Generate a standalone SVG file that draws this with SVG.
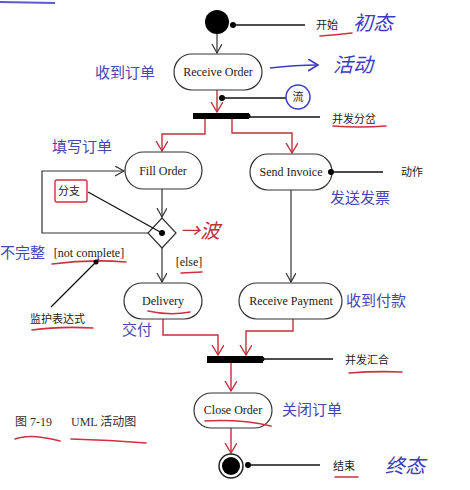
<svg xmlns="http://www.w3.org/2000/svg" width="470" height="490" viewBox="0 0 470 490">
<style>
.n{fill:#fff;stroke:#333;stroke-width:1.2}
.en{font-family:"Liberation Serif",serif;font-size:12px;fill:#222;text-anchor:middle}
.cn{font-family:"Noto Sans CJK SC",sans-serif;font-size:11px;fill:#222}
.bl{font-family:"Noto Sans CJK SC",sans-serif;font-size:15px;fill:#4646b4}
.hw{font-family:"Noto Sans CJK SC",sans-serif;font-size:20px;fill:#3c3cc0;font-style:italic}
.k{fill:none;stroke:#333;stroke-width:1.2}
.r{fill:none;stroke:#c0303c;stroke-width:1.4}
.ul{fill:none;stroke:#d03040;stroke-width:1.6;stroke-linecap:round}
.lead{fill:none;stroke:#111;stroke-width:1.3}
</style>
<defs>
<marker id="ak" markerWidth="12" markerHeight="12" refX="9" refY="5" orient="auto" markerUnits="userSpaceOnUse"><path d="M0,0 L9,5 L0,10" fill="none" stroke="#333" stroke-width="1.2"/></marker>
<marker id="ar" markerWidth="14" markerHeight="14" refX="10" refY="6" orient="auto" markerUnits="userSpaceOnUse"><path d="M0,0 L10,6 L0,12" fill="none" stroke="#c0303c" stroke-width="1.4"/></marker>
<marker id="ab" markerWidth="14" markerHeight="14" refX="10" refY="6" orient="auto" markerUnits="userSpaceOnUse"><path d="M0,0 L10,6 L0,12" fill="none" stroke="#3c3cc0" stroke-width="1.6"/></marker>
</defs>
<rect width="470" height="490" fill="#fff"/>
<path d="M0,2 L55,3" stroke="#5a5ac8" stroke-width="2" fill="none"/>

<g id="connectors">
<path class="k" d="M217,34 L217,53" marker-end="url(#ak)"/>
<path class="r" d="M217,90 L217,112" marker-end="url(#ar)"/>
<path class="r" d="M205,119 L205,134 L162,134 L162,151" marker-end="url(#ar)"/>
<path class="r" d="M232,119 L232,133 L292,133 L292,153" marker-end="url(#ar)"/>
<path class="k" d="M162,189 L162,217" marker-end="url(#ak)"/>
<path class="k" d="M148,233 L42,233 L42,171 L124,171" marker-end="url(#ak)"/>
<path class="k" d="M162,248 L162,282" marker-end="url(#ak)"/>
<path class="k" d="M291,190 L291,282" marker-end="url(#ak)"/>
<path class="r" d="M163,318 L163,335 L218,335 L218,355" marker-end="url(#ar)"/>
<path class="r" d="M293,318 L293,331 L246,331 L246,355" marker-end="url(#ar)"/>
<path class="r" d="M231,363 L231,391" marker-end="url(#ar)"/>
<path class="r" d="M231,428 L231,453" marker-end="url(#ar)"/>
</g>

<g id="start">
<circle cx="217" cy="22" r="12" fill="#000"/>
<circle cx="233" cy="25" r="3" fill="#000"/>
<path class="lead" d="M233,25 L305,25"/>
<text class="cn" x="316" y="29">开始</text>
<path class="ul" d="M320,36 Q335,35 352,33"/>
<text class="hw" x="353" y="30">初态</text>
</g>

<g id="receive-order">
<rect class="n" x="174" y="54" width="88" height="36" rx="18"/>
<text class="en" x="218" y="76">Receive Order</text>
<text class="bl" x="95" y="78">收到订单</text>
<path d="M270,68 Q295,65 318,65" fill="none" stroke="#3c3cc0" stroke-width="1.6" marker-end="url(#ab)"/>
<text class="hw" x="333" y="72">活动</text>
</g>

<g id="flow-label">
<circle cx="222" cy="98" r="3" fill="#000"/>
<path class="lead" d="M222,98 L286,98"/>
<circle cx="298" cy="97" r="12" fill="none" stroke="#3c3cc0" stroke-width="1.5"/>
<text class="cn" x="298" y="101" text-anchor="middle">流</text>
</g>

<g id="fork">
<rect x="193" y="113" width="56" height="6" fill="#000"/>
<circle cx="248" cy="116" r="2.5" fill="#000"/>
<path class="lead" d="M248,117 L320,117"/>
<text class="cn" x="332" y="123">并发分岔</text>
<path class="ul" d="M333,126 Q360,128 386,126"/>
</g>

<g id="fill-order">
<rect class="n" x="125" y="152" width="77" height="37" rx="18.5"/>
<text class="en" x="163" y="175">Fill Order</text>
<text class="bl" x="52" y="152">填写订单</text>
</g>

<g id="send-invoice">
<rect class="n" x="250" y="154" width="82" height="36" rx="18"/>
<text class="en" x="291" y="176">Send Invoice</text>
<circle cx="331" cy="172" r="3" fill="#000"/>
<path class="lead" d="M331,172 L383,172"/>
<text class="cn" x="401" y="176">动作</text>
<text class="bl" x="330" y="203">发送发票</text>
</g>

<g id="decision">
<path class="n" d="M162,218 L176,233 L162,248 L148,233 Z"/>
<circle cx="162" cy="233" r="3" fill="#000"/>
<path class="lead" d="M88,192 L162,233"/>
<rect x="55" y="180" width="32" height="22" fill="none" stroke="#d03040" stroke-width="1.4" rx="2"/>
<text class="cn" x="58" y="195">分支</text>
<text x="180" y="238" font-family="Noto Sans CJK SC,sans-serif" font-size="20" fill="#c0303c" font-style="italic">→波</text>
</g>

<g id="guards">
<text class="bl" x="0" y="258">不完整</text>
<text class="en" x="89" y="257">[not complete]</text>
<path class="ul" d="M52,264 Q90,259 126,262"/>
<circle cx="96" cy="262" r="2.5" fill="#000"/>
<path class="lead" d="M96,262 L51,307"/>
<text class="cn" x="30" y="323">监护表达式</text>
<path class="ul" d="M32,330 Q60,326 93,328"/>
<text class="en" x="189" y="266">[else]</text>
<path class="ul" d="M181,273 L202,272"/>
</g>

<g id="delivery">
<rect class="n" x="124" y="283" width="78" height="36" rx="18"/>
<text class="en" x="163" y="305">Delivery</text>
<path class="ul" d="M148,311 Q170,316 190,312"/>
<text class="bl" x="122" y="335">交付</text>
</g>

<g id="receive-payment">
<rect class="n" x="239" y="283" width="103" height="36" rx="18"/>
<text class="en" x="291" y="305">Receive Payment</text>
<text class="bl" x="346" y="306">收到付款</text>
</g>

<g id="join">
<rect x="207" y="356" width="56" height="7" fill="#000"/>
<circle cx="262" cy="359" r="2.5" fill="#000"/>
<path class="lead" d="M262,359 L333,359"/>
<text class="cn" x="345" y="364">并发汇合</text>
<path class="ul" d="M349,373 Q375,371 402,372"/>
</g>

<g id="close-order">
<rect class="n" x="194" y="393" width="78" height="35" rx="17.5"/>
<text class="en" x="233" y="414">Close Order</text>
<path class="ul" d="M205,421 Q240,419 271,426"/>
<text class="bl" x="282" y="415">关闭订单</text>
</g>

<g id="caption">
<text x="15" y="426" font-family="Liberation Serif,Noto Sans CJK SC,serif" font-size="12" fill="#333">图 7-19</text>
<text x="71" y="426" font-family="Liberation Serif,Noto Sans CJK SC,serif" font-size="12" fill="#333">UML 活动图</text>
<path class="ul" d="M15,439 Q30,433 60,441"/>
<path class="ul" d="M71,439 Q110,440 146,443"/>
</g>

<g id="end">
<circle cx="231" cy="466" r="12" fill="#fff" stroke="#222" stroke-width="1.5"/>
<circle cx="231" cy="466" r="9" fill="#000"/>
<circle cx="248" cy="465" r="3" fill="#000"/>
<path class="lead" d="M248,465 L320,465"/>
<text class="cn" x="333" y="470">结束</text>
<path class="ul" d="M335,477 L358,477"/>
<text class="hw" x="385" y="473">终态</text>
</g>
</svg>
